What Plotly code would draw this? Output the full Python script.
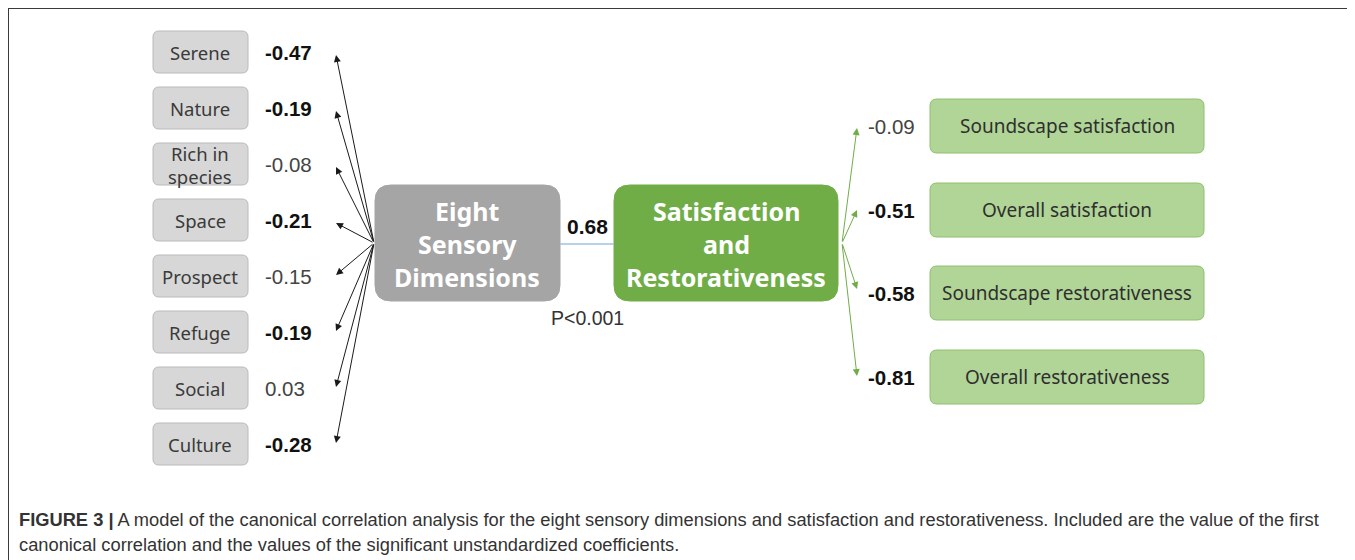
import plotly.graph_objects as go

# ---------------- data ----------------
left_labels = ["Serene", "Nature", "Rich in<br>species", "Space", "Prospect", "Refuge", "Social", "Culture"]
left_coefs = ["-0.47", "-0.19", "-0.08", "-0.21", "-0.15", "-0.19", "0.03", "-0.28"]
left_significant = [True, True, False, True, False, True, False, True]

right_labels = ["Soundscape satisfaction", "Overall satisfaction",
                "Soundscape restorativeness", "Overall restorativeness"]
right_coefs = ["-0.09", "-0.51", "-0.58", "-0.81"]
right_significant = [False, True, True, True]

left_center_lines = ["Eight", "Sensory", "Dimensions"]
right_center_lines = ["Satisfaction", "and", "Restorativeness"]
canonical_r = "0.68"
p_value = "P<0.001"

caption_bold = "FIGURE 3 |"
caption_line1 = " A model of the canonical correlation analysis for the eight sensory dimensions and satisfaction and restorativeness. Included are the value of the first"
caption_line2 = "canonical correlation and the values of the significant unstandardized coefficients."

# ---------------- layout helpers ----------------
W, H = 1355, 560
PAGE_OFFSET = 8  # default body margin of the html page


def rounded(x0, y0, x1, y1, r):
    return (f"M {x0+r},{y0} L {x1-r},{y0} Q {x1},{y0} {x1},{y0+r} "
            f"L {x1},{y1-r} Q {x1},{y1} {x1-r},{y1} L {x0+r},{y1} "
            f"Q {x0},{y1} {x0},{y1-r} L {x0},{y0+r} Q {x0},{y0} {x0+r},{y0} Z")


fig = go.Figure()
fig.add_trace(go.Scatter(x=[PAGE_OFFSET, W], y=[PAGE_OFFSET, H], mode="markers",
                         marker=dict(opacity=0), hoverinfo="skip", showlegend=False))

shapes = []
annotations = []

# frame
shapes.append(dict(type="line", x0=8, y0=8, x1=W + 20, y1=8, line=dict(color="#3a3a3a", width=2)))
shapes.append(dict(type="line", x0=8, y0=8, x1=8, y1=H + 20, line=dict(color="#3a3a3a", width=2)))

VAL_SIZE = 20.5

# left boxes
left_top, left_step = 52, 56
hub_l = (374, 243)
for i, (lab, val, sig) in enumerate(zip(left_labels, left_coefs, left_significant)):
    cy = left_top + i * left_step
    shapes.append(dict(type="path", path=rounded(153, cy - 21, 248, cy + 21, 6),
                       fillcolor="#d7d7d7", line=dict(color="#bababa", width=1)))
    if "<br>" in lab:
        a, b = lab.split("<br>")
        annotations.append(dict(x=200, y=cy - 11, text=a, showarrow=False,
                                font=dict(family="Noto Sans", size=18.5, color="#3a3a3a")))
        annotations.append(dict(x=200, y=cy + 12, text=b, showarrow=False,
                                font=dict(family="Noto Sans", size=18.5, color="#3a3a3a")))
    else:
        annotations.append(dict(x=200, y=cy, text=lab, showarrow=False,
                                font=dict(family="Noto Sans", size=18.5, color="#3a3a3a")))
    annotations.append(dict(x=263, y=cy, text=(f"<b>{val}</b>" if sig else val), showarrow=False,
                            xanchor="left",
                            font=dict(family="Liberation Sans", size=VAL_SIZE,
                                      color="#111" if sig else "#444")))
    tip_y = cy + (3 if cy < hub_l[1] else -1)
    annotations.append(dict(x=336, y=tip_y, ax=hub_l[0], ay=hub_l[1], xref="x", yref="y",
                            axref="x", ayref="y", text="", showarrow=True,
                            arrowhead=2, arrowsize=1.4, arrowwidth=1, arrowcolor="#1a1a1a"))

# centre boxes
shapes.append(dict(type="path", path=rounded(375, 185, 560, 301, 16),
                   fillcolor="#a5a5a5", line=dict(color="#a5a5a5", width=1)))
shapes.append(dict(type="path", path=rounded(614, 185, 838, 301, 16),
                   fillcolor="#70ad47", line=dict(color="#70ad47", width=1)))
shapes.append(dict(type="line", x0=560, y0=244, x1=614, y1=244,
                   line=dict(color="#9dc3e6", width=1.5)))
for j, t in enumerate(left_center_lines):
    annotations.append(dict(x=467, y=211 + j * 33, text=f"<b>{t}</b>", showarrow=False,
                            font=dict(family="Noto Sans", size=25, color="white")))
for j, t in enumerate(right_center_lines):
    annotations.append(dict(x=726, y=211 + j * 33, text=f"<b>{t}</b>", showarrow=False,
                            font=dict(family="Noto Sans", size=25, color="white")))
annotations.append(dict(x=587, y=226, text=f"<b>{canonical_r}</b>", showarrow=False,
                        font=dict(family="Liberation Sans", size=21, color="#111")))
annotations.append(dict(x=587, y=318, text=p_value, showarrow=False,
                        font=dict(family="Liberation Sans", size=19.5, color="#333")))

# right boxes
right_centers = [126, 210, 293, 377]
right_tips = [128, 210, 289, 376]
hub_r = (842, 243)
for i, (lab, val, sig) in enumerate(zip(right_labels, right_coefs, right_significant)):
    cy = right_centers[i]
    shapes.append(dict(type="path", path=rounded(930, cy - 27, 1204, cy + 27, 7),
                       fillcolor="#b0d597", line=dict(color="#8fc06e", width=1)))
    annotations.append(dict(x=1067, y=cy, text=lab, showarrow=False,
                            font=dict(family="Noto Sans", size=19, color="#2f2f2f")))
    annotations.append(dict(x=917, y=cy, text=(f"<b>{val}</b>" if sig else val), showarrow=False,
                            xanchor="right",
                            font=dict(family="Liberation Sans", size=VAL_SIZE,
                                      color="#111" if sig else "#444")))
    annotations.append(dict(x=857, y=right_tips[i], ax=hub_r[0], ay=hub_r[1], xref="x", yref="y",
                            axref="x", ayref="y", text="", showarrow=True,
                            arrowhead=2, arrowsize=1.4, arrowwidth=1, arrowcolor="#70ad47"))

# caption
annotations.append(dict(x=17, y=519, xanchor="left", text=f"<b>{caption_bold}</b>{caption_line1}",
                        showarrow=False, font=dict(family="Liberation Sans", size=18.3, color="#333")))
annotations.append(dict(x=17, y=544, xanchor="left", text=caption_line2,
                        showarrow=False, font=dict(family="Liberation Sans", size=18.3, color="#333")))

fig.update_layout(
    width=W, height=H,
    margin=dict(l=0, r=0, t=0, b=0),
    paper_bgcolor="white", plot_bgcolor="white",
    xaxis=dict(range=[PAGE_OFFSET, W + PAGE_OFFSET], visible=False, fixedrange=True),
    yaxis=dict(range=[H + PAGE_OFFSET, PAGE_OFFSET], visible=False, fixedrange=True),
    shapes=shapes, annotations=annotations, showlegend=False,
)

fig.write_html("out.html")
